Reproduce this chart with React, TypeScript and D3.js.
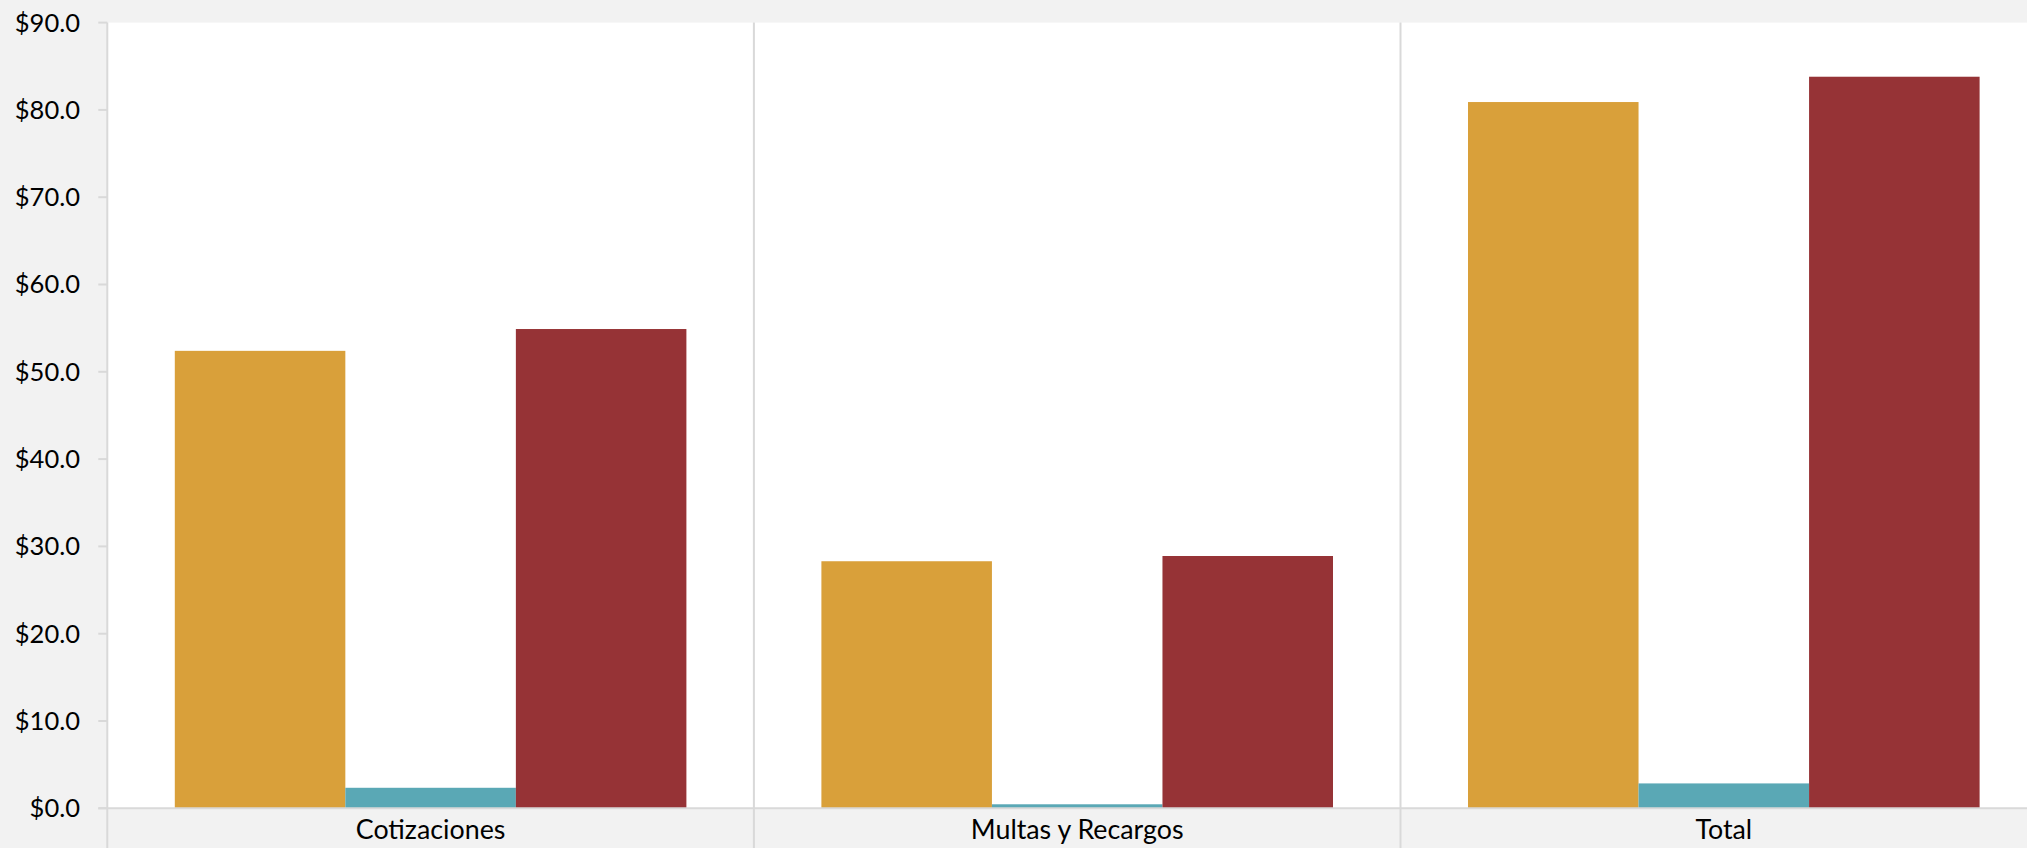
import * as d3 from "d3";
import React, { useEffect, useRef } from "react";

const width = 2027;
const height = 848;

// categories along the x axis
const categories = ["Cotizaciones", "Multas y Recargos", "Total"];
// three series (millions of $)
const seriesNames = ["serie1", "serie2", "serie3"];
const serie1 = [52.4, 28.3, 80.9];
const serie2 = [2.35, 0.46, 2.85];
const serie3 = [54.9, 28.9, 83.8];
const seriesColors = ["#D9A03A", "#5AA8B5", "#963336"];
const yTicks = [0, 10, 20, 30, 40, 50, 60, 70, 80, 90];

export default function App() {
  const holderRef = useRef<HTMLDivElement | null>(null);

  useEffect(() => {
    const holder = holderRef.current;
    if (!holder || holder.hasChildNodes()) return;

    const values = [serie1, serie2, serie3];
    const left = 107.3;
    const top = 22.6;
    const bottom = 808.3;
    const bandW = 646.6;

    const x = d3
      .scaleBand()
      .domain(categories)
      .range([left, left + bandW * categories.length])
      .padding(0);

    const xInner = d3
      .scaleBand()
      .domain(seriesNames)
      .range([67.5, bandW - 67.5])
      .padding(0);

    const y = d3.scaleLinear().domain([0, 90]).range([bottom, top]);

    const svg = d3
      .select(holder)
      .append("svg")
      .attr("width", width)
      .attr("height", height)
      .attr("style", "position:absolute;left:0;top:0;display:block;font-family:Lato, sans-serif;");

    // background + plot area
    svg.append("rect").attr("width", width).attr("height", height).attr("fill", "#F2F2F2");
    svg
      .append("rect")
      .attr("x", left)
      .attr("y", top)
      .attr("width", bandW * categories.length)
      .attr("height", bottom - top)
      .attr("fill", "#FFFFFF");

    // bars
    const groups = svg
      .append("g")
      .selectAll("g")
      .data(seriesNames)
      .join("g")
      .attr("fill", (_, i) => seriesColors[i]);

    groups
      .selectAll("rect")
      .data((s, i) => categories.map((c, j) => ({ s, c, v: values[i][j] })))
      .join("rect")
      .attr("x", (d) => (x(d.c) ?? 0) + (xInner(d.s) ?? 0))
      .attr("y", (d) => y(d.v))
      .attr("width", xInner.bandwidth())
      .attr("height", (d) => bottom - y(d.v));

    // category dividers and left axis line
    const grid = svg.append("g").attr("stroke", "#D9D9D9").attr("stroke-width", 2);
    grid
      .selectAll("line.div")
      .data(categories)
      .join("line")
      .attr("class", "div")
      .attr("x1", (d) => x(d) ?? 0)
      .attr("x2", (d) => x(d) ?? 0)
      .attr("y1", top)
      .attr("y2", height);

    // baseline
    grid
      .append("line")
      .attr("x1", left - 9)
      .attr("x2", width)
      .attr("y1", y(0))
      .attr("y2", y(0));

    // y ticks
    grid
      .selectAll("line.tick")
      .data(yTicks)
      .join("line")
      .attr("class", "tick")
      .attr("x1", left - 9)
      .attr("x2", left)
      .attr("y1", (d) => y(d))
      .attr("y2", (d) => y(d));

    svg
      .append("g")
      .selectAll("text")
      .data(yTicks)
      .join("text")
      .attr("x", 80)
      .attr("y", (d) => y(d))
      .attr("dy", "0.35em")
      .attr("text-anchor", "end")
      .attr("font-size", 25.5)
      .attr("fill", "#000")
      .text((d) => "$" + d3.format(".1f")(d));

    svg
      .append("g")
      .selectAll("text")
      .data(categories)
      .join("text")
      .attr("x", (d) => (x(d) ?? 0) + x.bandwidth() / 2)
      .attr("y", 839)
      .attr("text-anchor", "middle")
      .attr("font-size", 26.8)
      .attr("fill", "#000")
      .text((d) => d);
  }, []);

  return <div ref={holderRef} />;
}
